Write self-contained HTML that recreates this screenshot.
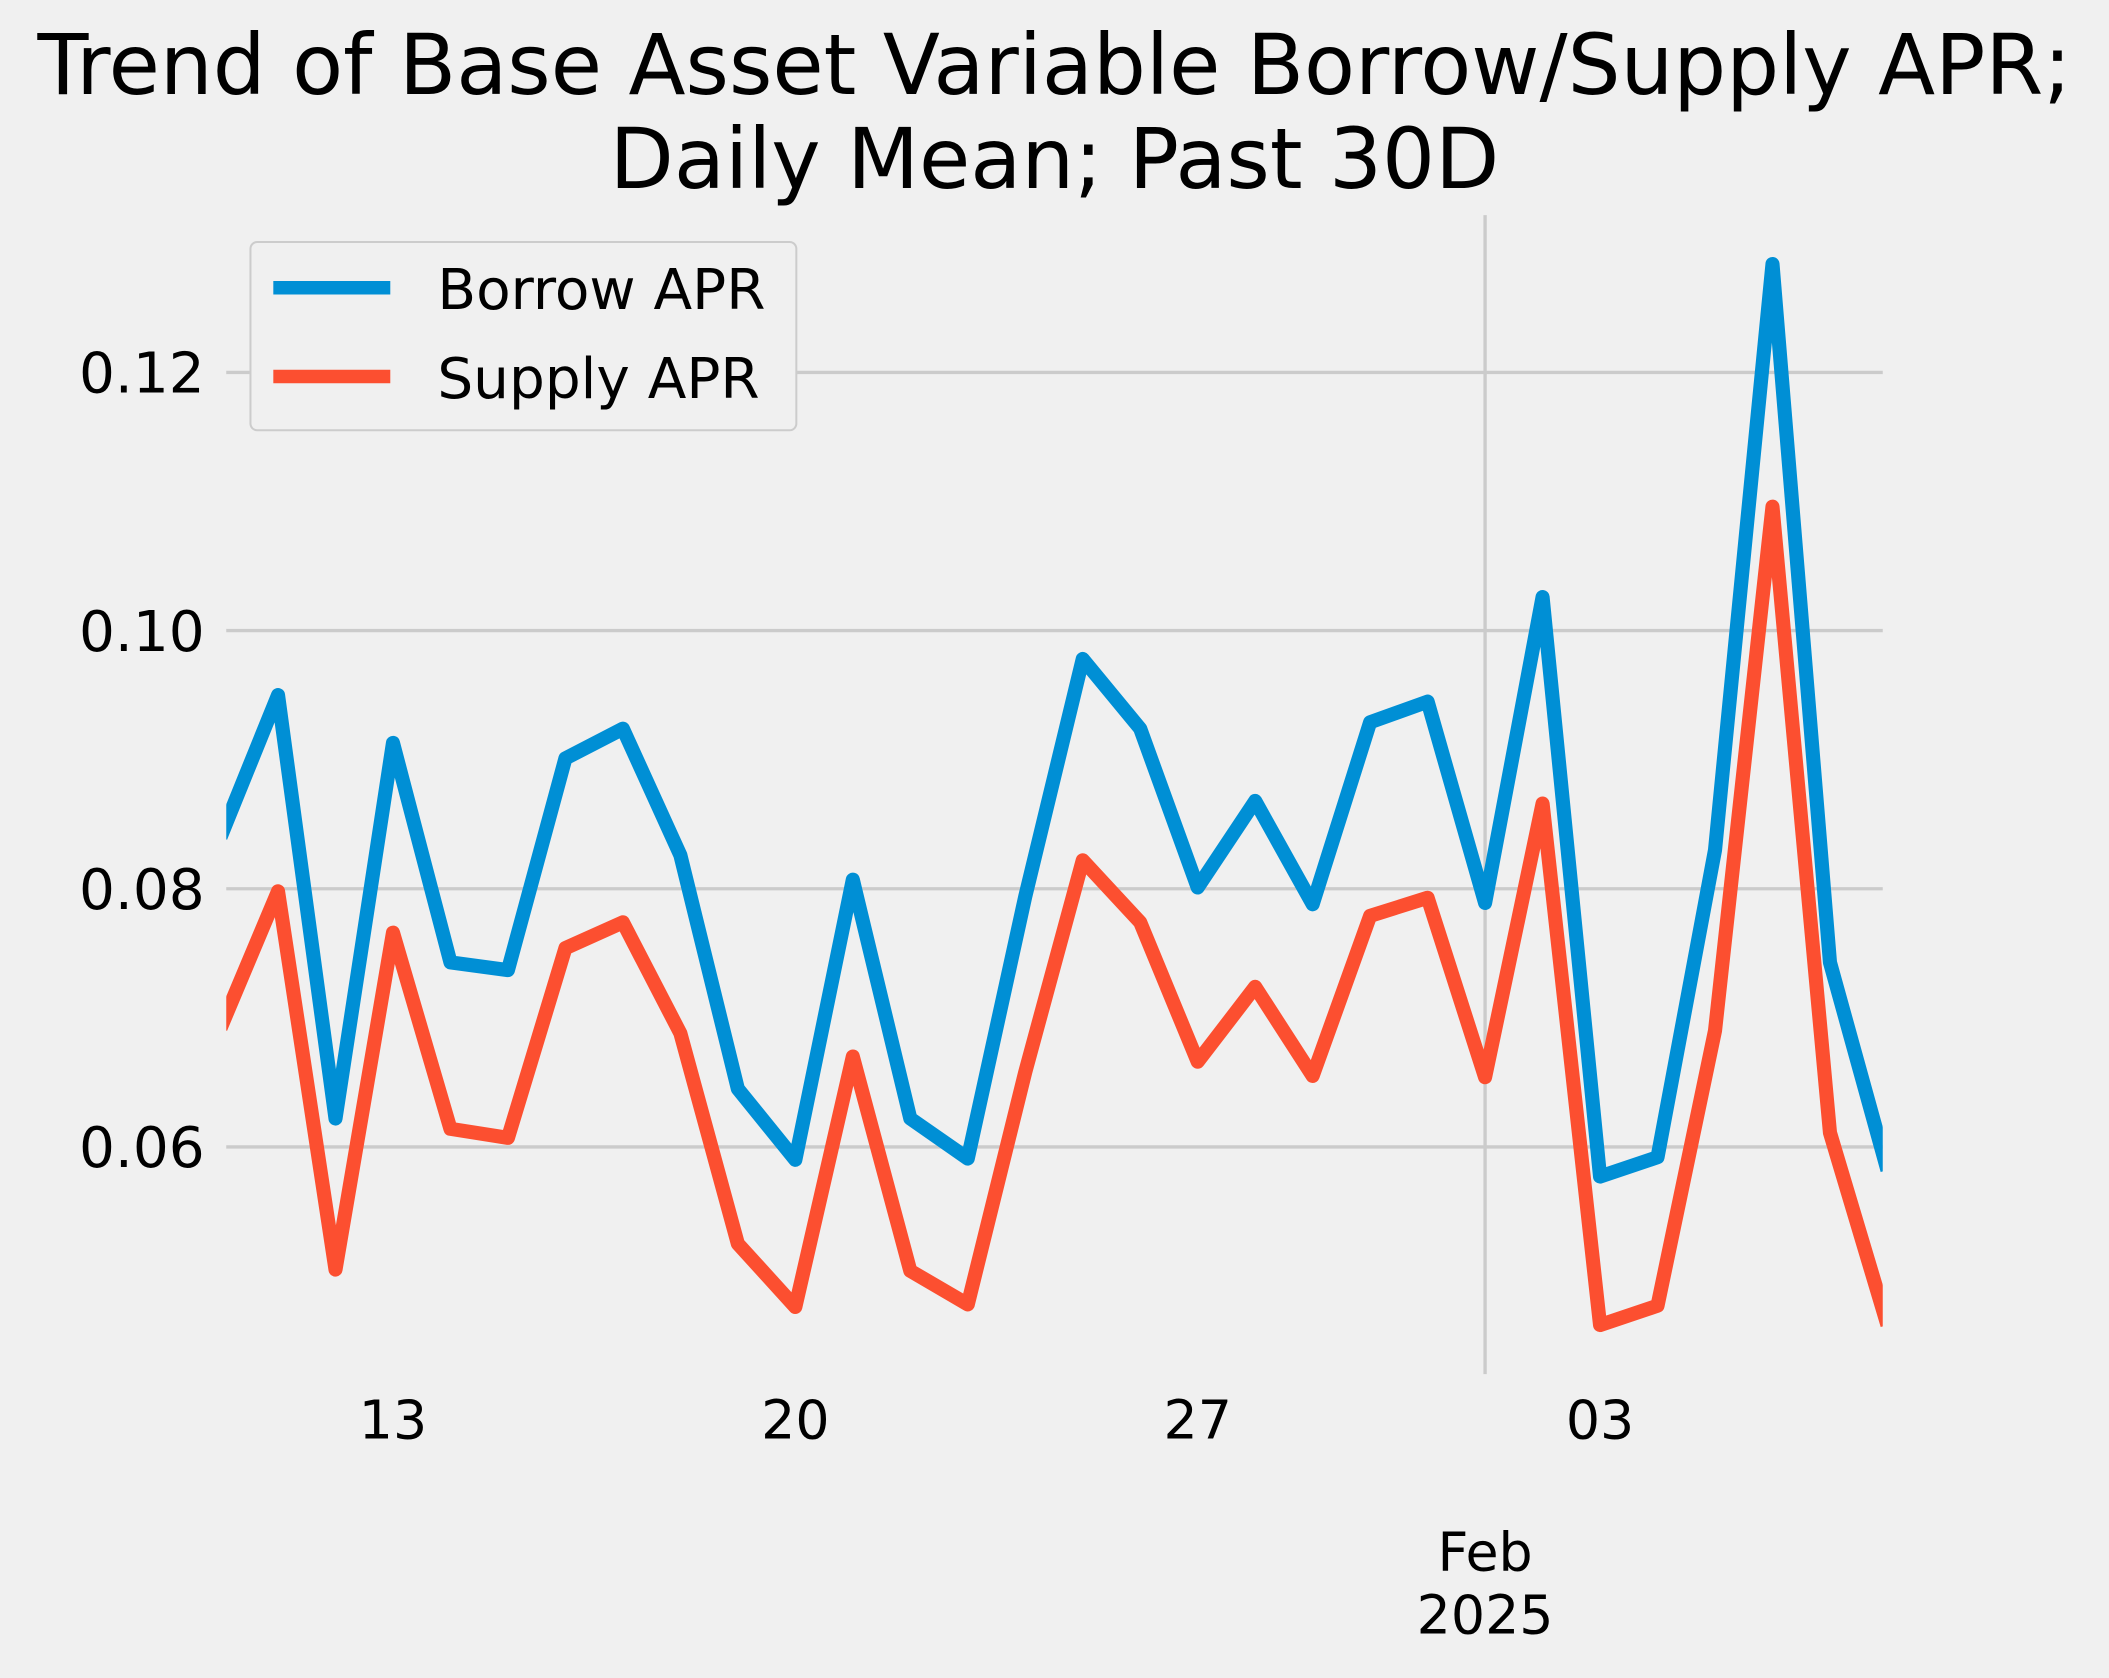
<!DOCTYPE html>
<html><head><meta charset="utf-8"><style>
html,body{margin:0;padding:0;background:#f0f0f0;}
svg{display:block;font-family:"DejaVu Sans","Liberation Sans",sans-serif;}
</style></head><body>
<svg id="chart" width="2109" height="1678" viewBox="0 0 1568 1248" xmlns="http://www.w3.org/2000/svg">
<rect x="0" y="0" width="1568" height="1248" fill="#f0f0f0"/>
<text x="784" y="70" font-size="62" text-anchor="middle" fill="#000">Trend of Base Asset Variable Borrow/Supply APR;</text>
<text x="784" y="140" font-size="62" text-anchor="middle" fill="#000">Daily Mean; Past 30D</text>
<defs><clipPath id="plotclip"><rect x="168" y="160" width="1232" height="862"/></clipPath></defs>
<g id="grid"></g>
<g id="series" clip-path="url(#plotclip)"></g>
<g id="labels"></g>
<g>
<rect x="186" y="180" width="406" height="140" rx="5" fill="#f0f0f0" stroke="#cccccc" stroke-width="1.5"/>
<line x1="203" y1="214" x2="290" y2="214" stroke="#008fd5" stroke-width="10"/>
<text x="325" y="230" font-size="42">Borrow APR</text>
<line x1="203" y1="280" x2="290" y2="280" stroke="#fc4f30" stroke-width="10"/>
<text x="325" y="296" font-size="42">Supply APR</text>
</g>
</svg>
<script>
const days = [-3,-2,-1,0,1,2,3,4,5,6,7,8,9,10,11,12,13,14,15,16,17,18,19,20,21,22,23,24,25,26]; // days since Jan 13
const borrow = [0.084,0.095,0.0622,0.0913,0.0743,0.0737,0.0901,0.0924,0.0826,0.0645,0.059,0.0807,0.0622,0.0591,0.0794,0.0978,0.0924,0.0801,0.0868,0.0788,0.0929,0.0945,0.0789,0.1026,0.0577,0.0592,0.083,0.1284,0.0743,0.0582];
const supply = [0.0692,0.0798,0.0505,0.0766,0.0614,0.0607,0.0754,0.0774,0.0688,0.0525,0.0476,0.067,0.0504,0.0478,0.0658,0.0822,0.0774,0.0666,0.0724,0.0655,0.0779,0.0793,0.0654,0.0866,0.0462,0.0477,0.069,0.1096,0.0611,0.0462];
const yTicks = [0.06,0.08,0.10,0.12];
const yTickLabels = ["0.06","0.08","0.10","0.12"];
const xTicks = [0,7,14,21];
const xTickLabels = ["13","20","27","03"];
const ns="http://www.w3.org/2000/svg";
const X = d => 292 + d*42.75;
const Y = v => 853 - (v-0.06)*9600;
const grid=document.getElementById('grid'), labels=document.getElementById('labels'), series=document.getElementById('series');
function mk(tag,attrs,parent){const e=document.createElementNS(ns,tag);for(const k in attrs)e.setAttribute(k,attrs[k]);parent.appendChild(e);return e;}
yTicks.forEach((v,i)=>{
  const l=mk('line',{x1:168,x2:1400,y1:Y(v),y2:Y(v),stroke:'#cbcbcb','stroke-width':2.5},grid);
  
  
  const t=mk('text',{x:152,y:Y(v)+15,'font-size':42,'text-anchor':'end'},labels);
  t.textContent=yTickLabels[i];
  
  
});
const feb1 = mk('line',{x1:X(19),x2:X(19),y1:160,y2:1022,stroke:'#cbcbcb','stroke-width':2.5},grid);


xTicks.forEach((d,i)=>{
  const t=mk('text',{x:X(d),y:1070,'font-size':40,'text-anchor':'middle'},labels);
  t.textContent=xTickLabels[i];
  
  
});
const m1=mk('text',{x:X(19),y:1168,'font-size':40,'text-anchor':'middle'},labels);m1.textContent='Feb';


const m2=mk('text',{x:X(19),y:1215,'font-size':40,'text-anchor':'middle'},labels);m2.textContent='2025';


function line(vals,color,name){
  const p=mk('polyline',{points:vals.map((v,i)=>X(days[i])+','+Y(v)).join(' '),fill:'none',stroke:color,'stroke-width':10.5,'stroke-linejoin':'round'},series);
  
  
}
line(borrow,'#008fd5','borrow-apr-line');
line(supply,'#fc4f30','supply-apr-line');
</script>
</body></html>
